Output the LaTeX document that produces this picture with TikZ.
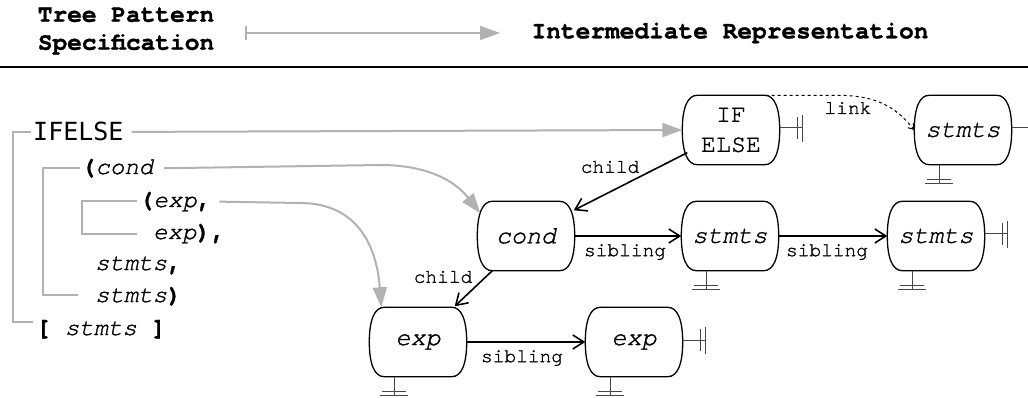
\documentclass[tikz,border=0pt]{standalone}
\usepackage{fontspec}
\setmonofont{texgyrecursor}[Extension=.otf, UprightFont=*-regular, BoldFont=*-bold, ItalicFont=*-italic, BoldItalicFont=*-bolditalic,
  UprightFeatures={FakeBold=1.2}, ItalicFeatures={FakeBold=1.2}, BoldFeatures={FakeBold=1.2}]
\newfontfamily\djmono{DejaVu Sans Mono}
\usetikzlibrary{arrows.meta,calc}
\definecolor{arrgray}{RGB}{178,178,178}
\definecolor{termgray}{RGB}{70,70,70}
\newcommand\irshape[1]{%
  \draw[irline] ([xshift=15]#1.north west) -- ([xshift=-15]#1.north east)
    .. controls ([xshift=-5]#1.north east) and ([yshift=-13]#1.north east) .. (#1.east)
    .. controls ([yshift=13]#1.south east) and ([xshift=-5]#1.south east) .. ([xshift=-15]#1.south east)
    -- ([xshift=15]#1.south west)
    .. controls ([xshift=5]#1.south west) and ([yshift=13]#1.south west) .. (#1.west)
    .. controls ([yshift=-13]#1.north west) and ([xshift=5]#1.north west) .. cycle;}
\newcommand\gnd[1]{%
  \draw[term] ([xshift=25]#1.south west) -- ++(0,18);
  \draw[term] ([xshift=25]#1.south west) ++(-12,15) -- ++(24,0);
  \draw[term] ([xshift=25]#1.south west) ++(-14,19) -- ++(28,0);}
\newcommand\rterm[1]{%
  \draw[term] (#1.east) ++(0,-2) -- ++(23,0);
  \draw[term] (#1.east) ++(18,-13) -- ++(0,22);
  \draw[term] (#1.east) ++(23,-15) -- ++(0,27);}
\begin{document}
\begin{tikzpicture}[x=1pt,y=-1pt,
  irnode/.style={draw=none, minimum width=97pt, minimum height=69pt, inner sep=0pt,
     font=\ttfamily\fontsize{25}{30}\selectfont, align=center},
  irline/.style={line width=1.3pt, black},
  term/.style={line width=1pt, termgray},
  conn/.style={line width=1.6pt, -{Straight Barb[length=11pt,width=14pt]}},
  lbl/.style={font=\ttfamily\fontsize{19.5}{22}\selectfont, inner sep=0pt},
  gconn/.style={arrgray, line width=2pt, -{Triangle[length=20pt,width=14pt]}},
  bracket/.style={arrgray, line width=1.8pt},
  code/.style={font=\ttfamily\fontsize{24}{28}\selectfont, inner sep=0pt, anchor=base west},
  hdr/.style={font=\ttfamily\bfseries\fontsize{24.5}{28}\selectfont, inner sep=0pt, align=center}]
\fill[white] (0,0) rectangle (1028,398);
\clip (0,0) rectangle (1028,398);

% header
\node[hdr] (hl) at (126,31) {Tree Pattern\\Specification};
\node[hdr] (hr) at (730,33) {Intermediate Representation};
\coordinate (ha1) at (245,33);
\coordinate (ha2) at (500,33);
\draw[arrgray, line width=1.6pt, {Bar[width=14pt]}-{Triangle[length=20pt,width=14pt]}] (ha1) -- (ha2);
\draw[line width=2pt] (0,67) -- (1028,67);

% tree pattern text
\node[font=\djmono\fontsize{25}{28}\selectfont, inner sep=0pt, anchor=base west] (tIF) at (33,141) {IFELSE};
\node[code] (tcond) at (81,174) {\textbf{(}\textit{cond}};
\node[code] (texp1) at (139,207) {\textbf{(}\textit{exp}\textbf{,}};
\node[code] (texp2) at (153,239) {\textit{exp}\textbf{),}};
\node[code] (tst1) at (95,270) {\textit{stmts}\textbf{,}};
\node[code] (tst2) at (95,302) {\textit{stmts}\textbf{)}};
\node[code] (tst3) at (36,335) {\textbf{[} \textit{stmts} \textbf{]}};

% brackets
\draw[bracket] (31,132) -- (13,132) -- (13,322) -- (33,322);
\draw[bracket] (80,168) -- (43,168) -- (43,295) -- (78,295);
\draw[bracket] (137,201) -- (82,201) -- (82,234) -- (137,234);

% IR nodes
\node[irnode] (ifelse) at (731,130) {IF\\ELSE};
\node[irnode] (st1) at (963,130) {\itshape stmts};
\node[irnode] (cond) at (526,236) {\itshape cond};
\node[irnode] (st2) at (730,236) {\itshape stmts};
\node[irnode] (st3) at (936,236) {\itshape stmts};
\node[irnode] (exp1) at (418,342) {\itshape exp};
\node[irnode] (exp2) at (634,342) {\itshape exp};
\foreach \n in {ifelse,st1,cond,st2,st3,exp1,exp2} {\irshape{\n}}

% terminators
\rterm{ifelse}
\rterm{st1}\gnd{st1}
\gnd{st2}
\rterm{st3}\gnd{st3}
\gnd{exp1}
\rterm{exp2}\gnd{exp2}

% connectors
\draw[conn] ([shift={(5,-12)}]ifelse.south west) -- ([shift={(-1,9)}]cond.north east);
\draw[conn] (cond.east) -- (st2.west);
\draw[conn] (st2.east) -- (st3.west);
\draw[conn] ([shift={(15,0)}]cond.south west) -- ([shift={(-12,-1)}]exp1.north east);
\draw[conn] (exp1.east) -- (exp2.west);
\draw[line width=1pt, dashed, -{Straight Barb[length=5pt,width=7pt]}]
  ([xshift=-14]ifelse.north east) -- ++(72,0) .. controls ++(45,0) and ([shift={(-15,-18)}]st1.west) .. (st1.west);

\node[lbl] (lc1) at (610,167) {child};
\node[lbl] (llink) at (848,108) {link};
\node[lbl] (ls1) at (625,252) {sibling};
\node[lbl] (ls2) at (827,252) {sibling};
\node[lbl] (lc2) at (443,277) {child};
\node[lbl] (ls3) at (522,358) {sibling};

% gray mapping arrows
\draw[gconn] ([xshift=8]tIF.east) -- (ifelse.west);
\draw[gconn] ([xshift=10]tcond.east) -- (380,165) .. controls (440,165) and (462,190) .. ([shift={(3,12)}]cond.north west);
\draw[gconn] ([xshift=8]texp1.east) -- (300,203) .. controls (360,203) and (377,250) .. ([shift={(12,0)}]exp1.north west);
\end{tikzpicture}
\end{document}
